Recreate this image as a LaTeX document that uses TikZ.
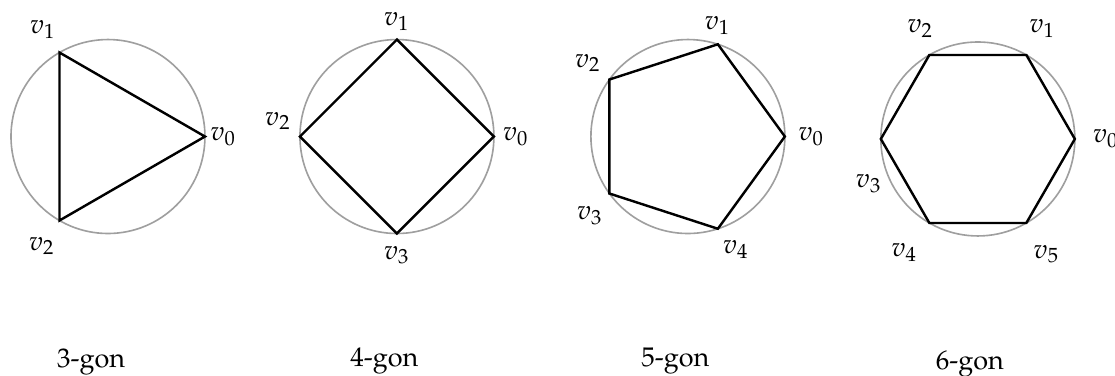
\documentclass[tikz,border=0pt]{standalone}
\usepackage[T1]{fontenc}
\usepackage{mathpazo}
\usetikzlibrary{calc}

\begin{document}
\begin{tikzpicture}[
        rim/.style={draw=gray!75, line width=0.6pt},
        gon/.style={draw=black, line width=0.9pt, line join=miter},
        vlab/.style={font=\normalsize},
        gonname/.style={font=\normalsize, anchor=base}
    ]
    \useasboundingbox (0, 0) rectangle (14.52, 4.896);
    \def\rad{1.263}

    % 3-gon
    \coordinate (c3) at (1.406, 3.118);
    \draw[rim] (c3) circle (\rad);
    \foreach \i/\a/\d in {0/0/1.504, 1/121.4/1.628, 2/238.9/1.667} {
        \coordinate (t\i) at ($(c3)+(\i*120:\rad)$);
        \node[vlab] (tl\i) at ($(c3)+(\a:\d)$) {$v_{\i}$};
    }
    \draw[gon] (t0) -- (t1) -- (t2) -- cycle;
    \node[gonname] (name3) at (1.185, 0.104) {3-gon};

    % 4-gon
    \coordinate (c4) at (5.169, 3.118);
    \draw[rim] (c4) circle (\rad);
    \foreach \i/\a/\d in {0/0/1.55, 1/90/1.497, 2/172.6/1.562, 3/270/1.543} {
        \coordinate (q\i) at ($(c4)+(\i*90:\rad)$);
        \node[vlab] (ql\i) at ($(c4)+(\a:\d)$) {$v_{\i}$};
    }
    \draw[gon] (q0) -- (q1) -- (q2) -- (q3) -- cycle;
    \node[gonname] (name4) at (5.006, 0.117) {4-gon};

    % 5-gon
    \coordinate (c5) at (8.958, 3.118);
    \draw[rim] (c5) circle (\rad);
    \foreach \i/\a/\d in {0/0/1.608, 1/75/1.497, 2/143.7/1.615, 3/219/1.641, 4/293/1.602} {
        \coordinate (p\i) at ($(c5)+(\i*72:\rad)$);
        \node[vlab] (pl\i) at ($(c5)+(\a:\d)$) {$v_{\i}$};
    }
    \draw[gon] (p0) -- (p1) -- (p2) -- (p3) -- (p4) -- cycle;
    \node[gonname] (name5) at (8.795, 0.117) {5-gon};

    % 6-gon
    \coordinate (c6) at (12.734, 3.086);
    \draw[rim] (c6) circle (\rad);
    \foreach \i/\a/\d in {0/0/1.667, 1/59.7/1.667, 2/117.5/1.621, 3/202.3/1.536, 4/237/1.758, 5/300.8/1.745} {
        \coordinate (h\i) at ($(c6)+(\i*60:\rad)$);
        \node[vlab] (hl\i) at ($(c6)+(\a:\d)$) {$v_{\i}$};
    }
    \draw[gon] (h0) -- (h1) -- (h2) -- (h3) -- (h4) -- (h5) -- cycle;
    \node[gonname] (name6) at (12.63, 0.078) {6-gon};

\end{tikzpicture}
\end{document}
